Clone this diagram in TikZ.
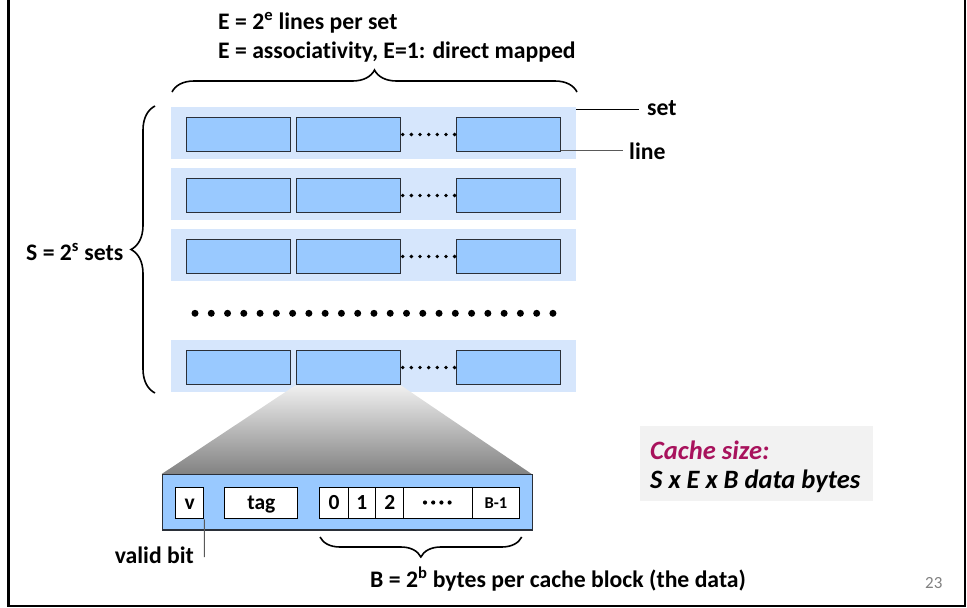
\documentclass[tikz,border=0pt]{standalone}
\usepackage{fontspec}
\setmainfont{Carlito}[Ligatures=NoCommon]
\usetikzlibrary{decorations.pathreplacing}
\definecolor{setbg}{HTML}{D6E6FC}
\definecolor{linefill}{HTML}{99C9FF}
\definecolor{cachecol}{HTML}{A8125C}
\definecolor{boxedge}{HTML}{2A2F38}
\definecolor{notegray}{HTML}{F2F2F2}
\begin{document}
\begin{tikzpicture}[x=1pt,y=-1pt,
  lbl/.style={inner sep=0pt, font=\fontsize{23.7}{28}\selectfont\bfseries},
  setrect/.style={fill=setbg, draw=none, inner sep=0pt, anchor=north west, minimum width=405, minimum height=52},
  cbox/.style={fill=linefill, draw=boxedge, line width=1.3pt, inner sep=0pt, anchor=north west, minimum width=104, minimum height=34},
  cell/.style={fill=white, draw=black, line width=1.1pt, inner sep=0pt, anchor=north west, minimum height=31.6, text height=13pt, text depth=0pt, font=\fontsize{21.5}{24}\selectfont\bfseries},
  bracestyle/.style={decorate, decoration={brace, amplitude=#1}, line width=1.6pt},
  conn/.style={line width=1pt}
]
\useasboundingbox (0,0) rectangle (967,608);
% frame
\draw[line width=3pt] (8.5,-5) -- (8.5,606);
\draw[line width=1.5pt] (7,606) -- (965,606) -- (965,-5);

% top texts
\node[lbl, anchor=west] (t1) at (218,23) {E = 2\textsuperscript{e} lines per set};
\node[lbl, anchor=west] (t2) at (218,52) {E = associativity, E=1: direct mapped};

% sets
\foreach \i/\t in {1/107,2/168,3/229,4/340}{
  \node[setrect] (s\i) at (171,\t) {};
  \node[cbox] (s\i a) at (186,\t+10) {};
  \node[cbox] (s\i b) at (295.5,\t+10) {};
  \node[cbox] (s\i c) at (456,\t+10) {};
  \foreach \k in {0,...,6}{
    \fill (402.7+8.65*\k,\t+27.5) circle (1.9);
  }
}
% big dots
\foreach \k in {0,...,22}{
  \fill (195+16.27*\k,313.3) circle (3.5);
}

% braces
\draw[bracestyle=22] (172,92) -- (577,92);
\draw[bracestyle=24] (155,393) -- (155,106);
\node[lbl, anchor=west] (slbl) at (26,252) {S = 2\textsuperscript{s} sets};

% set / line labels
\node[lbl, anchor=west] (setlbl) at (647,108) {set};
\node[lbl, anchor=west] (linelbl) at (629,151) {line};
\coordinate (setend) at (639,109);
\coordinate (lineend) at (623,150);
\draw[conn] (s1.north east |- setend) -- (setend);
\draw[conn, draw=gray!70!black] (s1c.east |- lineend) -- (lineend);

% zoom trapezoid
\coordinate (lbnw) at (161.7,474);
\coordinate (lbne) at (531.7,474);
\shade[top color=gray!12, bottom color=gray!60!black!70] (s4b.south west) -- (s4b.south east) -- (lbne) -- (lbnw) -- cycle;

% line block
\node[fill=linefill, draw=boxedge, line width=1.3pt, inner sep=0pt, anchor=north west, minimum width=370, minimum height=55.3] (lb) at (lbnw) {};
\node[cell, minimum width=28.3] (v) at (175,486.7) {v};
\node[cell, minimum width=73] (tag) at (224.3,486.7) {tag};
\node[cell, minimum width=28.4] (d0) at (319.3,486.7) {0};
\node[cell, minimum width=27.3] (d1) at (347.7,486.7) {1};
\node[cell, minimum width=28.3] (d2) at (375,486.7) {2};
\node[cell, minimum width=68.4] (dd) at (403.3,486.7) {};
\node[cell, minimum width=47.3, text height=10.5pt, font=\fontsize{16.5}{19}\selectfont\bfseries] (dlast) at (471.7,486.7) {B-1};
\foreach \k in {0,...,3}{
  \fill (425+8.2*\k,502.5) circle (2.1);
}

% valid bit
\coordinate (vend) at (204.3,557);
\draw[conn, draw=gray!70!black] (v.south east) -- (vend);
\node[lbl, anchor=east] (vlbl) at (194,555) {valid bit};

% bottom brace
\draw[bracestyle=20] (521.7,537) -- (320,537);
\node[lbl, anchor=west] (blbl) at (370,579) {B = 2\textsuperscript{b} bytes per cache block (the data)};

% cache size note
\node[fill=notegray, inner sep=0pt, anchor=north west, minimum width=232.7, minimum height=74.7] (note) at (640,426) {};
\node[inner sep=0pt, anchor=west, text=cachecol, font=\fontsize{26.5}{31}\selectfont\bfseries\itshape] (n1) at (650,450) {Cache size:};
\node[inner sep=0pt, anchor=west, font=\fontsize{26.5}{31}\selectfont\bfseries\itshape] (n2) at (650,481.7) {S x E x B data bytes};

% page number
\node[inner sep=0pt, anchor=west, text=gray, font=\fontsize{17}{20}\selectfont] (pg) at (925,583.3) {23};
\end{tikzpicture}
\end{document}
